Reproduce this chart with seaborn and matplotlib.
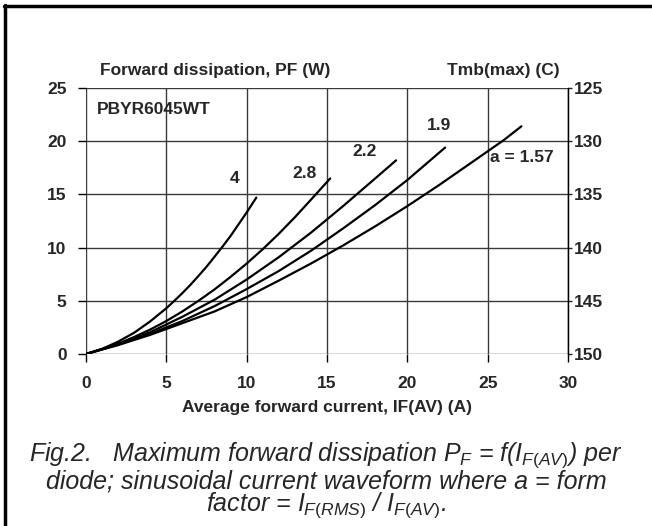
import matplotlib
matplotlib.use("Agg")
import matplotlib.pyplot as plt
from matplotlib.lines import Line2D
import pandas as pd
import seaborn as sns

sns.set_style("white")
plt.rcParams['font.family'] = ['Liberation Sans', 'DejaVu Sans']
plt.rcParams['mathtext.fontset'] = 'custom'
plt.rcParams['mathtext.rm'] = 'Liberation Sans'
plt.rcParams['mathtext.it'] = 'Liberation Sans:italic'

# curves: average current (A) vs dissipation (W), one per form factor
x_a4 = [0, 1, 2, 3, 4, 5, 5.5, 6, 6.5, 7, 7.5, 8, 8.5, 9, 9.5, 10, 10.6]
p_a4 = [0, 0.48, 1.16, 2.0, 3.07, 4.3, 5.0, 5.73, 6.5, 7.34, 8.2, 9.14, 10.1, 11.1, 12.2, 13.3, 14.7]

x_a28 = [0, 1, 2, 3, 4, 5, 6, 7, 8, 9, 10, 11, 12, 13, 14, 15.2]
p_a28 = [0, 0.44, 0.96, 1.6, 2.3, 3.1, 4.0, 5.0, 6.07, 7.25, 8.5, 9.85, 11.3, 12.85, 14.5, 16.5]

x_a22 = [0, 2, 4, 6, 8, 10, 12, 14, 16, 18, 19.3]
p_a22 = [0, 0.95, 2.05, 3.5, 5.1, 7.0, 9.1, 11.4, 13.9, 16.5, 18.2]

x_a19 = [0, 2, 4, 6, 8, 10, 12, 14, 16, 18, 20, 22.35]
p_a19 = [0, 0.87, 1.9, 3.1, 4.5, 6.1, 7.8, 9.7, 11.8, 14.0, 16.35, 19.4]

x_a157 = [0, 2, 4, 6, 8, 10, 12, 14, 16, 18, 20, 22, 24, 26, 27.1]
p_a157 = [0, 0.84, 1.8, 2.9, 4.0, 5.35, 6.9, 8.5, 10.2, 12.0, 13.9, 15.9, 18.0, 20.1, 21.4]

curve_labels = ["4", "2.8", "2.2", "1.9", "a = 1.57"]
label_x = [9.27, 13.6, 17.36, 21.98, 27.1]
label_y = [16.5, 17.0, 19.0, 21.5, 18.5]

x_ticks = [0, 5, 10, 15, 20, 25, 30]
y_ticks = [0, 5, 10, 15, 20, 25]
t_ticks = [125, 130, 135, 140, 145, 150]

fig = plt.figure(figsize=(6.52, 5.26), dpi=100)
ax = fig.add_axes([86 / 652, 1 - 354 / 526, 482 / 652, 266 / 526])

curves = [(x_a4, p_a4), (x_a28, p_a28), (x_a22, p_a22), (x_a19, p_a19), (x_a157, p_a157)]
for name, (xs, ps) in zip(curve_labels, curves):
    df = pd.DataFrame({"I": xs, "P": ps})
    sns.lineplot(data=df, x="I", y="P", ax=ax, color="black", linewidth=1.6)

for i, txt in enumerate(curve_labels):
    kw = {}
    if txt == "2.2":
        kw["bbox"] = dict(facecolor="white", edgecolor="none", pad=1)
    ax.text(label_x[i], label_y[i], txt, ha="center", va="center",
            fontsize=12.5, fontweight="bold", zorder=5, **kw)
ax.text(0.66, 23.0, "PBYR6045WT", ha="left", va="center", fontsize=12.5,
        fontweight="bold", zorder=5)

ax.set_xlim(0, 30)
ax.set_ylim(0, 25)
ax.set_xticks(x_ticks)
ax.set_yticks(y_ticks)
ax.set_xlabel("Average forward current, IF(AV) (A)", fontsize=12.5,
              fontweight="bold", labelpad=6)
ax.set_ylabel("")
ax.grid(True, color="#3a3a3a", linewidth=1.0)
ax.tick_params(axis="both", direction="out", length=6, width=1, labelsize=12.5,
               pad=10, color="black", bottom=True, left=True)
ax.tick_params(axis="y", pad=8)
for lab in ax.get_xticklabels() + ax.get_yticklabels():
    lab.set_fontweight("bold")
for side in ["left", "top", "bottom"]:
    ax.spines[side].set_visible(False)
ax.spines["right"].set_color("#3a3a3a")

ax2 = ax.twinx()
ax2.set_ylim(150, 125)
ax2.set_yticks(t_ticks)
ax2.tick_params(axis="y", direction="out", length=3, width=1, labelsize=12.5,
                pad=1, right=True)
for lab in ax2.get_yticklabels():
    lab.set_fontweight("bold")
for side in ["left", "top", "bottom"]:
    ax2.spines[side].set_visible(False)
ax2.spines["right"].set_color("black")
ax2.spines["right"].set_linewidth(1.0)
ax2.grid(False)

fig.text(100 / 652, 1 - 70 / 526, "Forward dissipation, PF (W)", ha="left",
         va="center", fontsize=12.5, fontweight="bold")
fig.text(560 / 652, 1 - 70 / 526, "Tmb(max) (C)", ha="right", va="center",
         fontsize=12.5, fontweight="bold")

cap = dict(ha="center", va="center", fontsize=18, fontstyle="italic")
fig.text(326 / 652, 1 - 455 / 526,
         r"Fig.2.   Maximum forward dissipation $P_F$ = f($I_{\mathit{F(AV)}}$) per", **cap)
fig.text(326 / 652, 1 - 481 / 526,
         "diode; sinusoidal current waveform where a = form", **cap)
fig.text(326 / 652, 1 - 505 / 526,
         r"factor = $I_{\mathit{F(RMS)}}$ / $I_{\mathit{F(AV)}}$.", **cap)

# frame drawn round the figure, left and top sides only
fig.add_artist(Line2D([5 / 652, 5 / 652], [0, 1 - 5 / 526], color="black",
                      linewidth=2.5, transform=fig.transFigure))
fig.add_artist(Line2D([4 / 652, 1], [1 - 6 / 526, 1 - 6 / 526], color="black",
                      linewidth=2.5, transform=fig.transFigure))

fig.savefig("out.png", dpi=100)
